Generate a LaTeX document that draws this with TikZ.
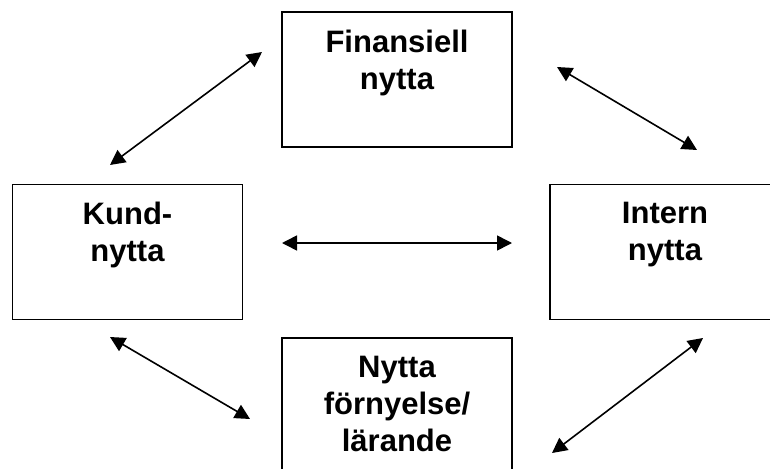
\documentclass[tikz,border=0pt]{standalone}
\usepackage{fontspec}
\setmainfont{Liberation Sans}
\usetikzlibrary{arrows.meta}
\newcommand{\boxw}{230pt}
\newcommand{\boxh}{135pt}

\begin{document}
\begin{tikzpicture}[
      x=1pt, y=-1pt, %pixel like units, y going down
      nyttabox/.style={draw, line width=1.8pt, minimum width=\boxw, minimum height=\boxh, inner sep=0pt},
      boxtext/.style={anchor=north, inner sep=0pt, align=center, yshift=-18.5pt,
                      font=\fontsize{31}{37}\selectfont\bfseries},
      link/.style={line width=1.6pt, {Triangle[length=15pt,width=15pt]}-{Triangle[length=15pt,width=15pt]}}
    ]
    \clip (0,0) rectangle (770,468);
    % the four boxes
    \node[nyttabox] (fin) at (397,79.5) {};
    \node[nyttabox] (kund) at (127.5,252) {};
    \node[nyttabox] (intern) at (665,252) {};
    \node[nyttabox] (fornyelse) at (397,405.5) {};
    % their texts
    \node[boxtext] (fintext) at (fin.north) {Finansiell\\nytta};
    \node[boxtext] (kundtext) at (kund.north) {Kund-\\nytta};
    \node[boxtext] (interntext) at (intern.north) {Intern\\nytta};
    \node[boxtext] (fornyelsetext) at (fornyelse.north) {Nytta\\förnyelse/\\lärande};
    % arrow ends
    \coordinate (kf1) at (110,165);
    \coordinate (kf2) at (262,52);
    \coordinate (fi1) at (557,67);
    \coordinate (fi2) at (697,150);
    \coordinate (ki1) at (282,243);
    \coordinate (ki2) at (512,243);
    \coordinate (kn1) at (110,337);
    \coordinate (kn2) at (250,419);
    \coordinate (ni1) at (552,453);
    \coordinate (ni2) at (703,338);
    % the links
    \draw[link] (kf1) -- (kf2);
    \draw[link] (fi1) -- (fi2);
    \draw[link] (ki1) -- (ki2);
    \draw[link] (kn1) -- (kn2);
    \draw[link] (ni1) -- (ni2);
\end{tikzpicture}
\end{document}
